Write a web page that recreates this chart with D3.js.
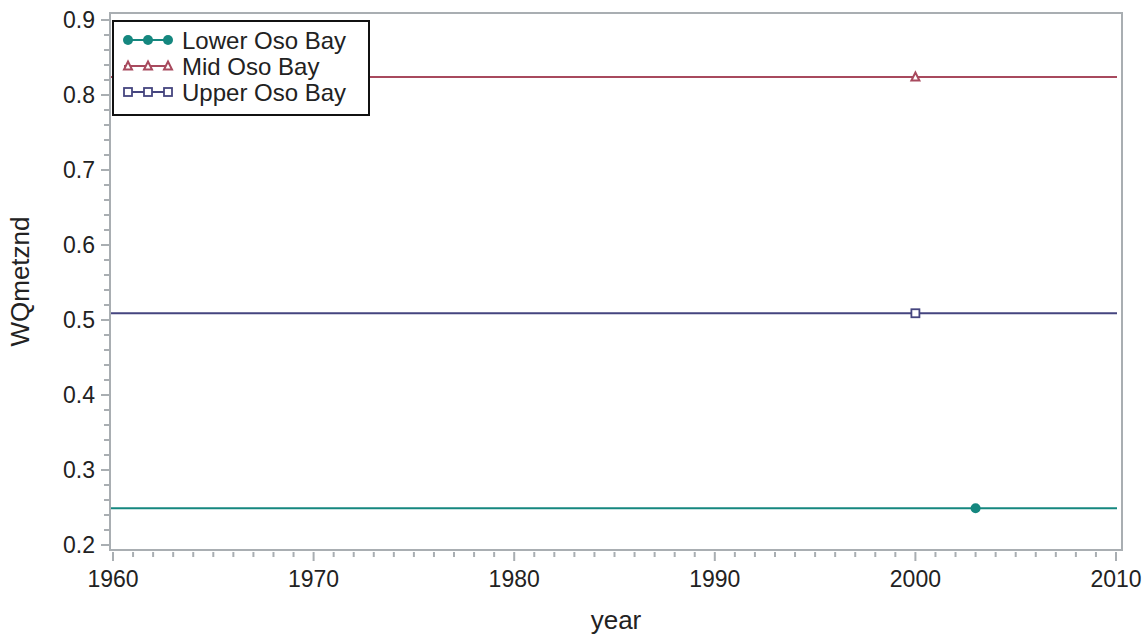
<!DOCTYPE html>
<html>
<head>
<meta charset="utf-8">
<script src="https://cdn.jsdelivr.net/npm/d3@7"></script>
<style>
  body { margin: 0; background: #fff; }
  svg text { font-family: "Liberation Sans", Arial, sans-serif; fill: #222; }
</style>
</head>
<body>
<div id="chart"></div>
<script>
// series
const seriesNames = ['Lower Oso Bay', 'Mid Oso Bay', 'Upper Oso Bay'];
const pointYears = [2003, 2000, 2000];
const seriesValues = [0.249, 0.824, 0.509];
const seriesColors = ['#15877f', '#a84a5e', '#45457f'];
const seriesSymbols = ['circle', 'triangle', 'square'];
// axis ticks
const xTicks = [1960, 1970, 1980, 1990, 2000, 2010];
const yTicks = [0.2, 0.3, 0.4, 0.5, 0.6, 0.7, 0.8, 0.9];

const width = 1147, height = 639;
const frame = {left: 110, right: 1122, top: 13, bottom: 550};
const axisColor = '#a9aeb2';

const svg = d3.select('#chart').append('svg')
    .attr('width', width)
    .attr('height', height);

const x = d3.scaleLinear().domain([1960, 2010]).range([113, 1116]);
const y = d3.scaleLinear().domain([0.2, 0.9]).range([545, 20]);

// minor tick values
const xMinor = d3.range(1960, 2011, 1).filter(v => v % 10 !== 0);
const yMinor = d3.range(20, 91, 2).map(v => v / 100).filter(v => Math.round(v * 100) % 10 !== 0);

// frame
svg.append('rect')
    .attr('x', frame.left).attr('y', frame.top)
    .attr('width', frame.right - frame.left)
    .attr('height', frame.bottom - frame.top)
    .attr('fill', 'none')
    .attr('stroke', axisColor)
    .attr('stroke-width', 2);

// y axis ticks + labels
const yAxis = svg.append('g').attr('transform', `translate(${frame.left - 1},0)`);
yAxis.selectAll('line.major').data(yTicks).join('line')
    .attr('x1', -8).attr('x2', 0)
    .attr('y1', d => y(d)).attr('y2', d => y(d))
    .attr('stroke', axisColor).attr('stroke-width', 2);
yAxis.selectAll('line.minor').data(yMinor).join('line')
    .attr('class', 'minor')
    .attr('x1', -5).attr('x2', 0)
    .attr('y1', d => y(d)).attr('y2', d => y(d))
    .attr('stroke', axisColor).attr('stroke-width', 2);
yAxis.selectAll('text').data(yTicks).join('text')
    .attr('x', -14)
    .attr('y', d => y(d))
    .attr('dy', '0.36em')
    .attr('text-anchor', 'end')
    .style('font-size', '23px')
    .text(d3.format('.1f'));

// x axis ticks + labels
const xAxis = svg.append('g').attr('transform', `translate(0,${frame.bottom + 2})`);
xAxis.selectAll('line.major').data(xTicks).join('line')
    .attr('x1', d => x(d)).attr('x2', d => x(d))
    .attr('y1', 0).attr('y2', 9)
    .attr('stroke', axisColor).attr('stroke-width', 2);
xAxis.selectAll('line.minor').data(xMinor).join('line')
    .attr('class', 'minor')
    .attr('x1', d => x(d)).attr('x2', d => x(d))
    .attr('y1', 0).attr('y2', 5)
    .attr('stroke', axisColor).attr('stroke-width', 2);
xAxis.selectAll('text').data(xTicks).join('text')
    .attr('x', d => x(d))
    .attr('y', 35)
    .attr('text-anchor', 'middle')
    .style('font-size', '23px')
    .text(d => d);

// axis titles
svg.append('text')
    .attr('x', (frame.left + frame.right) / 2)
    .attr('y', 629)
    .attr('text-anchor', 'middle')
    .style('font-size', '26px')
    .text('year');
svg.append('text')
    .attr('transform', `translate(29,${(frame.top + frame.bottom) / 2}) rotate(-90)`)
    .attr('text-anchor', 'middle')
    .style('font-size', '26px')
    .text('WQmetznd');

// symbol drawing helper
function drawSymbol(g, kind, cx, cy, color) {
    if (kind === 'circle') {
        g.append('circle').attr('cx', cx).attr('cy', cy).attr('r', 5)
            .attr('fill', color);
    } else if (kind === 'triangle') {
        g.append('path')
            .attr('d', `M${cx},${cy - 4.5}L${cx + 4},${cy + 3.5}L${cx - 4},${cy + 3.5}Z`)
            .attr('fill', '#fff').attr('stroke', color).attr('stroke-width', 2);
    } else {
        g.append('rect').attr('x', cx - 4).attr('y', cy - 4)
            .attr('width', 8).attr('height', 8)
            .attr('fill', '#fff').attr('stroke', color).attr('stroke-width', 1.8);
    }
}

// series: horizontal line across the year range plus the observed point
const plot = svg.append('g');
seriesNames.forEach((name, i) => {
    plot.append('line')
        .attr('x1', frame.left + 1).attr('x2', x(2010) + 1)
        .attr('y1', y(seriesValues[i])).attr('y2', y(seriesValues[i]))
        .attr('stroke', seriesColors[i]).attr('stroke-width', 2);
    drawSymbol(plot, seriesSymbols[i], x(pointYears[i]), y(seriesValues[i]), seriesColors[i]);
});

// legend
const legend = svg.append('g');
legend.append('rect')
    .attr('x', 113).attr('y', 21)
    .attr('width', 256).attr('height', 94)
    .attr('fill', '#fff')
    .attr('stroke', '#111').attr('stroke-width', 2);
seriesNames.forEach((name, i) => {
    const ly = 40 + i * 26;
    const row = legend.append('g');
    row.append('line')
        .attr('x1', 124).attr('x2', 170)
        .attr('y1', ly).attr('y2', ly)
        .attr('stroke', seriesColors[i]).attr('stroke-width', 2);
    [128, 148, 168].forEach(mx => drawSymbol(row, seriesSymbols[i], mx, ly, seriesColors[i]));
    row.append('text')
        .attr('x', 182).attr('y', ly)
        .attr('dy', '0.36em')
        .style('font-size', '24px')
        .text(name);
});
</script>
</body>
</html>
